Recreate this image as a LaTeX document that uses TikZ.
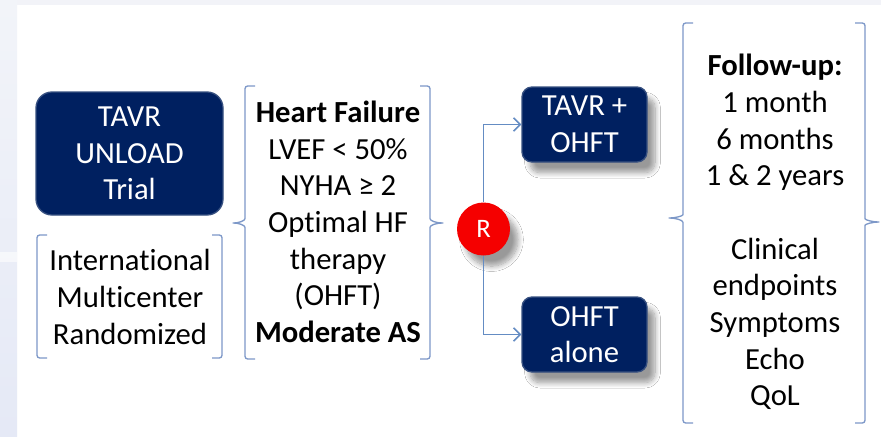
\documentclass[tikz,border=0pt]{standalone}
\usepackage{fontspec}
\setmainfont{Carlito}[Ligatures=NoCommon]
\usetikzlibrary{arrows.meta,shadows.blur}

\definecolor{trialnavy}{RGB}{0,32,96}
\definecolor{navyedge}{RGB}{55,80,128}
\definecolor{bracketblue}{RGB}{125,152,200}
\definecolor{linkblue}{RGB}{100,140,195}
\definecolor{randred}{RGB}{245,0,0}
\definecolor{topband}{RGB}{242,243,248}
\definecolor{sidetop}{RGB}{242,244,249}
\definecolor{sidebot}{RGB}{229,233,246}

\tikzset{every picture/.style={line width=0.75pt}}
\tikzset{
  softshadow/.style={blur shadow={shadow xshift=6pt, shadow yshift=-8pt, shadow blur radius=4pt,
    shadow blur steps=10, shadow opacity=40}},
  navybox/.style={fill=trialnavy, draw=navyedge, line width=1pt, rounded corners=7.5pt,
    text=white, align=center, inner sep=0pt, font=\fontsize{23}{27.5}\selectfont},
  armbox/.style={navybox, softshadow, minimum width=93.75pt, minimum height=56.25pt},
  listtext/.style={align=center, inner sep=0pt, text=black, font=\fontsize{23}{27.5}\selectfont},
  bracketline/.style={draw=bracketblue, line width=1pt, rounded corners=2pt},
  link/.style={draw=linkblue, line width=1.2pt, -{Straight Barb[length=5pt,width=10pt]}},
}

\begin{document}
\begin{tikzpicture}[x=0.75pt,y=0.75pt,yscale=-1,xscale=1]
		\useasboundingbox (0,0) rectangle (881,436);

		%Background
		\fill [white] (0,0) rectangle (881,436);
		\fill [topband] (0,0) rectangle (881,5);
		\shade [top color=sidetop, bottom color=sidebot] (0,0) rectangle (17,436);
		\fill [white, opacity=0.6] (0,252) rectangle (17,262);

		%Trial box
		\node [navybox, minimum width=140.25pt, minimum height=92.25pt, rounded corners=12pt] (trial) at (129.5,153.5) {TAVR\\UNLOAD\\Trial};

		%Design bracket
		\node [listtext] (design) at (130,297) {International\\Multicenter\\Randomized};
		\draw [bracketline] (47,235) -- (37,235) -- (37,358) -- (47,358);
		\draw [bracketline] (212,235) -- (222,235) -- (222,358) -- (212,358);

		%Inclusion braces
		\node [listtext] (criteria) at (338,222) {\textbf{Heart Failure}\\LVEF < 50\%\\NYHA ≥ 2\\Optimal HF\\therapy\\(OHFT)\\\textbf{Moderate AS}};
		\draw [bracketline] (255,86) -- (245,86) -- (245,216) .. controls (245,221) and (238,223) .. (231,223) .. controls (238,223) and (245,225) .. (245,230) -- (245,359) -- (255,359);
		\draw [bracketline] (420,86) -- (430,86) -- (430,216) .. controls (430,221) and (437,223) .. (445,223) .. controls (437,223) and (430,225) .. (430,230) -- (430,359) -- (420,359);

		%Randomization
		\node [circle, softshadow, fill=randred, text=white, minimum size=39.75pt, inner sep=0pt, font=\fontsize{20}{24}\selectfont] (R) at (483.5,229) {R};

		%Arms
		\node [armbox] (tavr) at (584.5,124.5) {TAVR +\\OHFT};
		\node [armbox] (ohft) at (584.5,334.5) {OHFT\\alone};
		\draw [link] (R) |- (tavr);
		\draw [link] (R) |- (ohft);

		%Follow-up braces
		\node [listtext] (followup) at (775,232) {\textbf{Follow-up:}\\1 month\\6 months\\1 \& 2 years\\[27.5pt]Clinical\\endpoints\\Symptoms\\Echo\\QoL};
		\draw [bracketline] (693,23) -- (683,23) -- (683,212) .. controls (683,216) and (675,218) .. (667,218) .. controls (675,218) and (683,220) .. (683,225) -- (683,423) -- (693,423);
		\draw [bracketline] (855,23) -- (865,23) -- (865,216) .. controls (865,220) and (873,222) .. (881,222) .. controls (873,222) and (865,224) .. (865,228) -- (865,423) -- (855,423);

	\end{tikzpicture}
\end{document}
